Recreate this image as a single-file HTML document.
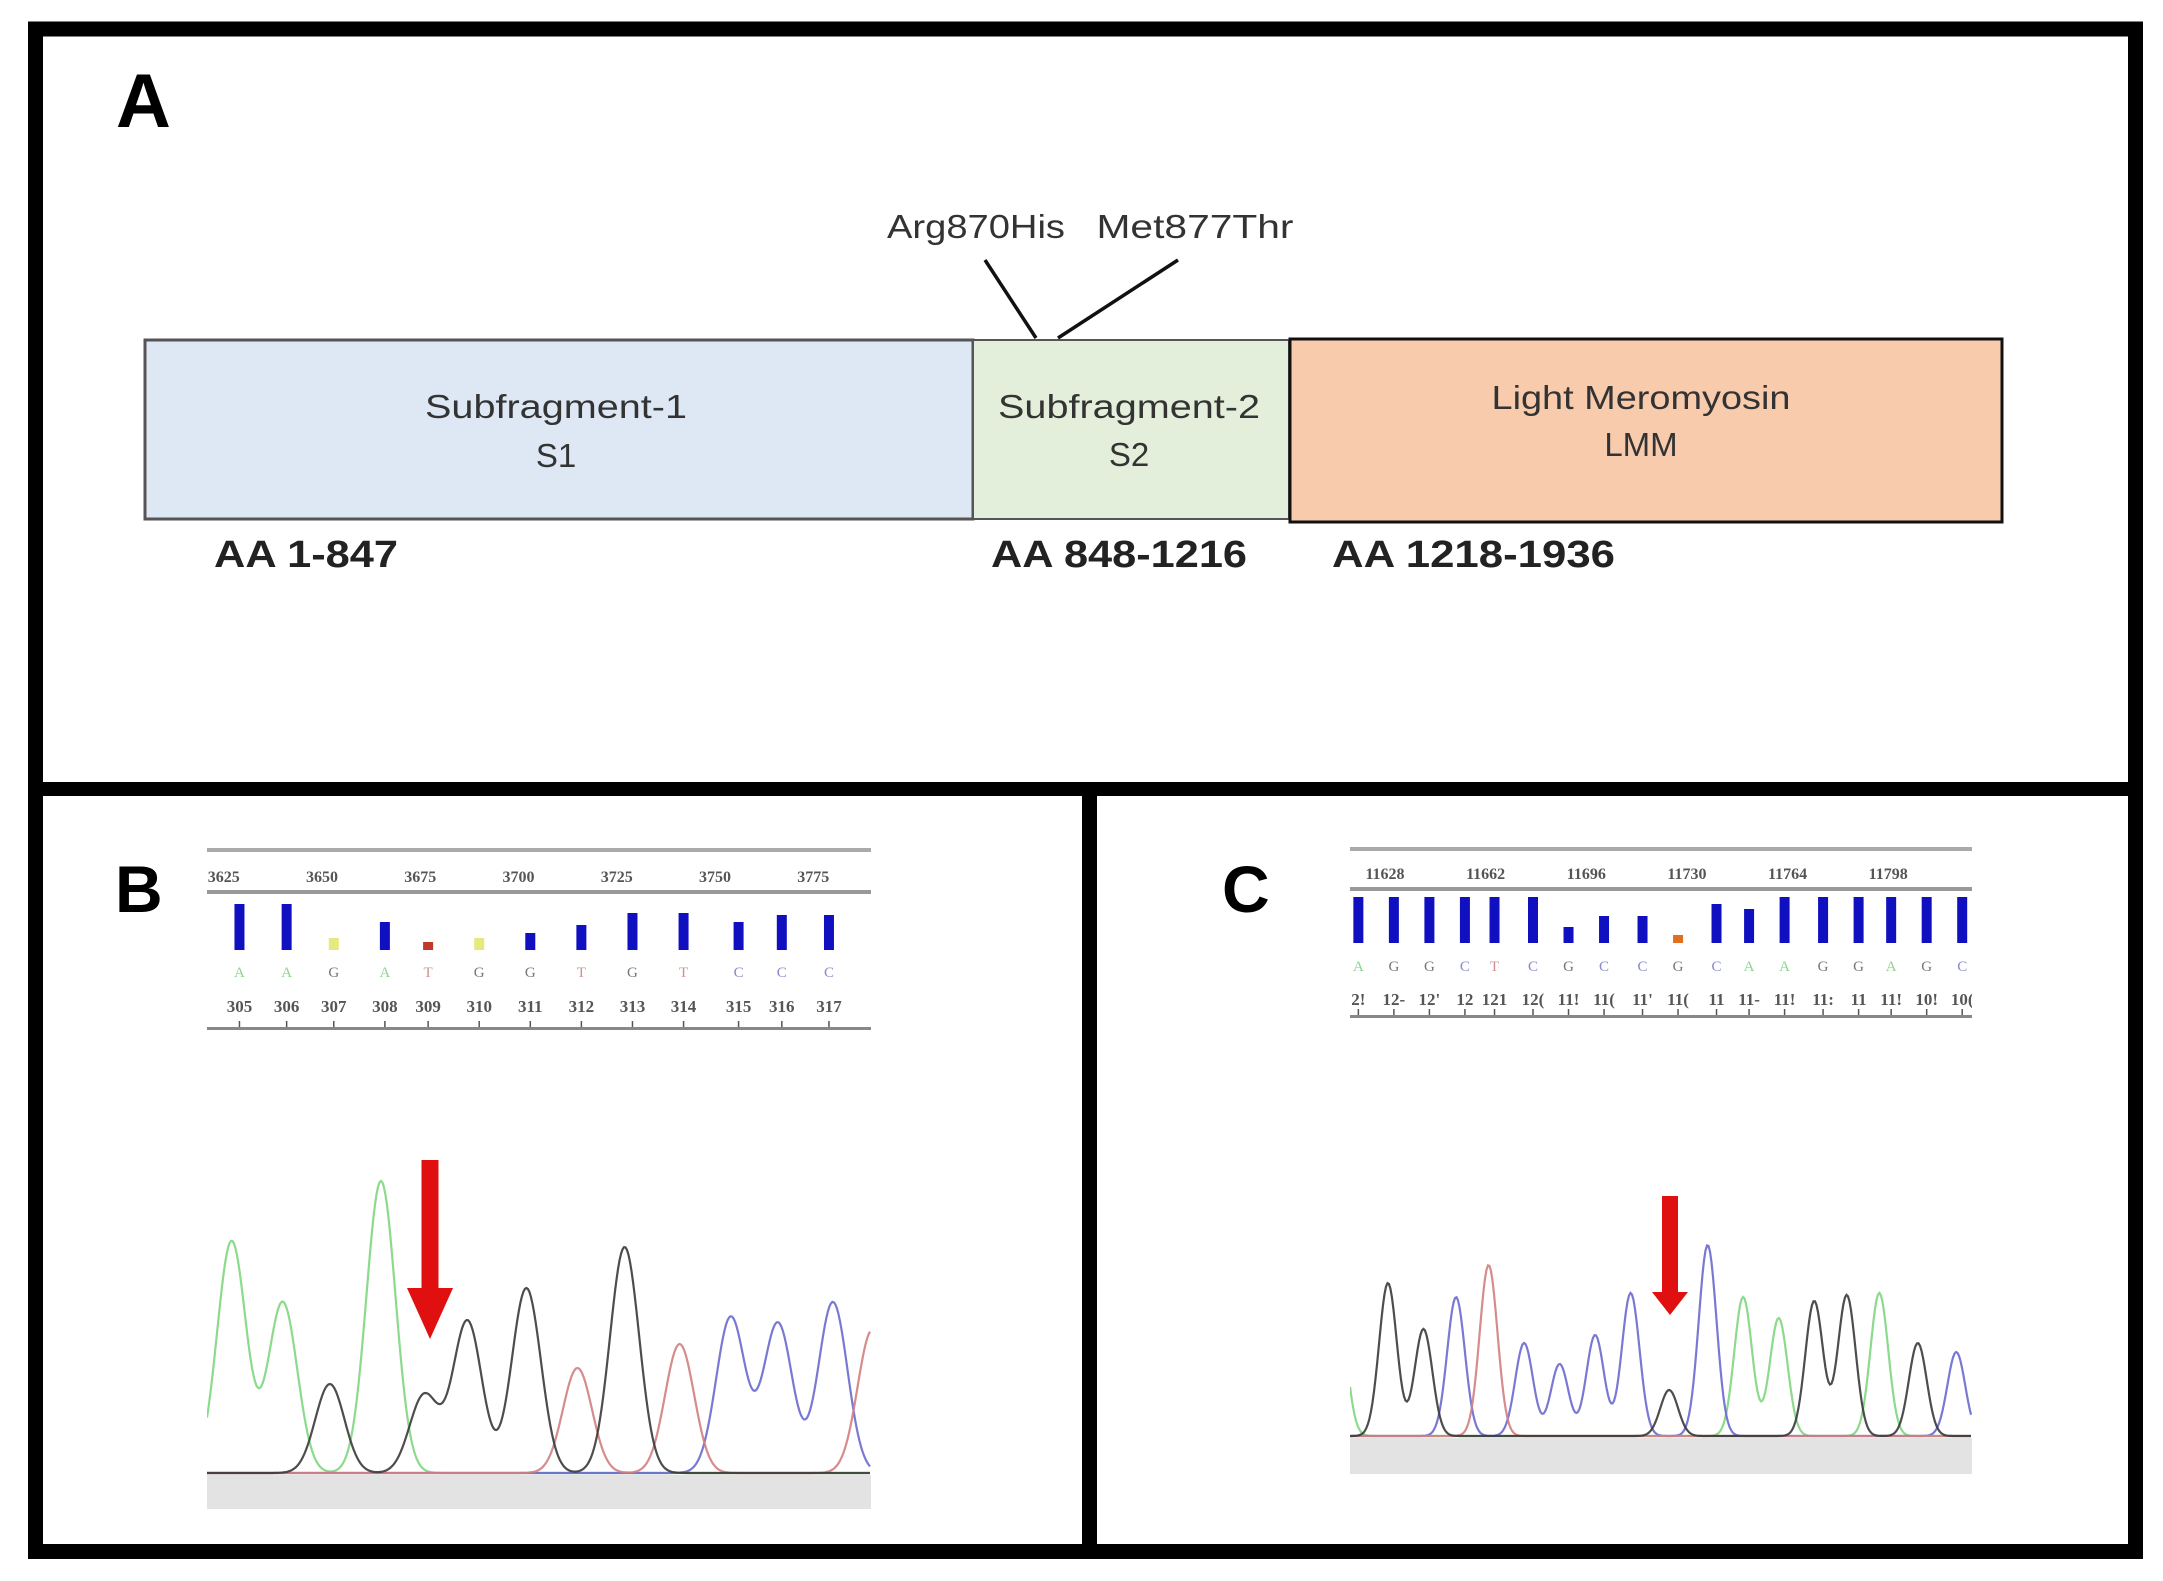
<!DOCTYPE html>
<html><head><meta charset="utf-8"><style>
html,body{margin:0;padding:0;background:#fff;}
svg{display:block;font-family:"Liberation Sans",sans-serif;}
</style></head><body>
<svg id="fig" width="2163" height="1581" viewBox="0 0 2163 1581" xmlns="http://www.w3.org/2000/svg">
<rect x="0" y="0" width="2163" height="1581" fill="#fff"/>
<rect x="35.5" y="29" width="2100" height="1522.5" fill="none" stroke="#000" stroke-width="15"/>
<rect x="28" y="782" width="2115" height="14" fill="#000"/>
<rect x="1082" y="782" width="15" height="770" fill="#000"/>

<g>
<text x="116" y="127" font-size="76" font-weight="bold">A</text>
<rect x="145" y="340" width="828" height="179" fill="#dee8f4" stroke="#555" stroke-width="3"/>
<rect x="973" y="340" width="316" height="179" fill="#e3efda" stroke="#555" stroke-width="2"/>
<rect x="1290" y="339" width="712" height="183" fill="#f8cbad" stroke="#111" stroke-width="3"/>
<g font-size="33" fill="#333" text-anchor="middle">
<text x="556" y="418" textLength="262" lengthAdjust="spacingAndGlyphs">Subfragment-1</text>
<text x="556" y="467">S1</text>
<text x="1129" y="418" textLength="262" lengthAdjust="spacingAndGlyphs">Subfragment-2</text>
<text x="1129" y="466">S2</text>
<text x="1641" y="409" textLength="299" lengthAdjust="spacingAndGlyphs">Light Meromyosin</text>
<text x="1641" y="456">LMM</text>
<text x="976" y="238" textLength="178" lengthAdjust="spacingAndGlyphs">Arg870His</text>
<text x="1195" y="238" textLength="197" lengthAdjust="spacingAndGlyphs">Met877Thr</text>
</g>
<line x1="985" y1="260" x2="1036" y2="338" stroke="#111" stroke-width="3.5"/>
<line x1="1178" y1="260" x2="1058" y2="338" stroke="#111" stroke-width="3.5"/>
<g font-size="38" font-weight="bold" fill="#222">
<text x="214" y="567" textLength="184" lengthAdjust="spacingAndGlyphs">AA 1-847</text>
<text x="991" y="567" textLength="256" lengthAdjust="spacingAndGlyphs">AA 848-1216</text>
<text x="1332" y="567" textLength="283" lengthAdjust="spacingAndGlyphs">AA 1218-1936</text>
</g>
</g>

<text x="115" y="912" font-size="66" font-weight="bold">B</text>
<text x="1222" y="912" font-size="66" font-weight="bold">C</text>
<g id="panelB"></g>
<g id="panelC"></g>
</svg>
<script>
// ---- Panel B data ----
const bScanTicks = [3625, 3650, 3675, 3700, 3725, 3750, 3775];
const bBases = ["A","A","G","A","T","G","G","T","G","T","C","C","C"];
const bBaseNums = ["305","306","307","308","309","310","311","312","313","314","315","316","317"];
const bBaseScans = [3629, 3641, 3653, 3666, 3677, 3690, 3703, 3716, 3729, 3742, 3756, 3767, 3779];
const bQuality = [46, 46, 12, 28, 8, 12, 17, 25, 37, 37, 28, 35, 35];
const bPeakScans = [3627, 3640, 3652, 3665, 3676, 3687, 3702, 3715, 3727, 3741, 3754, 3766, 3780, 3790];
const bPeakHeights = [232, 171, 89, 292, 78, 152, 185, 105, 226, 129, 156, 150, 171, 143];
const bPeakBases = ["A","A","G","A","G","G","G","T","G","T","C","C","C","T"];
// ---- Panel C data ----
const cScanTicks = [11628, 11662, 11696, 11730, 11764, 11798, 11832];
const cTickLabels = ["11628","11662","11696","11730","11764","11798","1"];
const cBases = ["A","G","G","C","T","C","G","C","C","G","C","A","A","G","G","A","G","C"];
const cBaseNums = ["2!","12-","12'","12","121","12(","11!","11(","11'","11(","11","11-","11!","11:","11","11!","10!","10("];
const cBaseScans = [11619, 11631, 11643, 11655, 11665, 11678, 11690, 11702, 11715, 11727, 11740, 11751, 11763, 11776, 11788, 11799, 11811, 11823];
const cQuality = [46, 46, 46, 46, 46, 46, 16, 27, 27, 8, 39, 34, 46, 46, 46, 46, 46, 46];
const cPeakScans = [11612, 11629, 11641, 11652, 11663, 11675, 11687, 11699, 11711, 11724, 11737, 11749, 11761, 11773, 11784, 11795, 11808, 11821];
const cPeakHeights = [130, 153, 107, 139, 171, 93, 72, 101, 143, 46, 191, 139, 118, 135, 141, 143, 93, 84];
const cPeakBases = ["A","G","G","C","T","C","C","C","C","G","C","A","A","G","G","A","G","C"];

const NS = "http://www.w3.org/2000/svg";
const traceColor = {A:"#7fd67f", G:"#3a3a3a", T:"#d08080", C:"#6a6acf"};
const letterColor = {A:"#8cd68c", G:"#777", T:"#d49090", C:"#8888cc"};
function mk(tag, attrs, parent){const e=document.createElementNS(NS,tag);for(const k in attrs)e.setAttribute(k,attrs[k]);parent.appendChild(e);return e;}

function drawPanel(g, cfg){
  const sx = s => cfg.x0 + (s - cfg.s0) * cfg.pxPerScan;
  const hy = h => cfg.baseY - h * cfg.yScale;
  const clipId = cfg.id + "clip";
  const defs = mk("defs", {}, g);
  const cp = mk("clipPath", {id: clipId}, defs);
  mk("rect", {x: cfg.left, y: cfg.top - 20, width: cfg.right - cfg.left, height: cfg.bandBottom - cfg.top + 20}, cp);
  const l1 = mk("rect", {x: cfg.left, y: cfg.top, width: cfg.right - cfg.left, height: 4, fill: "#aaa"}, g);
  
  
  const l2 = mk("rect", {x: cfg.left, y: cfg.rule2, width: cfg.right - cfg.left, height: 4, fill: "#999"}, g);
  
  
  const l3 = mk("rect", {x: cfg.left, y: cfg.rule3, width: cfg.right - cfg.left, height: 3, fill: "#888"}, g);
  
  
  const cg = mk("g", {"clip-path": "url(#" + clipId + ")"}, g);
  cfg.ticks.forEach((t, i) => {
    const tx = mk("text", {x: sx(t), y: cfg.tickY, "font-size": 16, "font-family": "Liberation Serif, serif", "font-weight": "bold", fill: "#555", "text-anchor": "middle"}, cg);
    tx.textContent = cfg.tickLabels ? cfg.tickLabels[i] : String(t);
    
    
  });
  cfg.bases.forEach((b, i) => {
    const x = sx(cfg.baseScans[i]);
    const q = cfg.quality[i];
    const low = q < 10;
    const col = low ? (b === "T" ? "#c0392b" : "#e07020") : (q < 14 ? "#e8e880" : "#1010c0");
    const bar = mk("rect", {x: x - 5, y: cfg.barBottom - q, width: 10, height: q, fill: col}, cg);
    
    
    const lt = mk("text", {x: x, y: cfg.letterY, "font-size": 15, "font-family": "Liberation Serif, serif", fill: letterColor[b], "text-anchor": "middle"}, cg);
    lt.textContent = b;
    
    
    const nt = mk("text", {x: x, y: cfg.numY, "font-size": 17, "font-family": "Liberation Serif, serif", "font-weight": "bold", fill: "#555", "text-anchor": "middle"}, cg);
    nt.textContent = cfg.baseNums[i];
    
    
    const tk = mk("line", {x1: x, y1: cfg.rule3 - 6, x2: x, y2: cfg.rule3, stroke: "#555", "stroke-width": 1.5}, cg);
    
    
  });
  const band = mk("rect", {x: cfg.left, y: cfg.baseY + 2, width: cfg.right - cfg.left, height: cfg.bandBottom - cfg.baseY - 2, fill: "#e3e3e3"}, g);
  
  
  ["A","C","T","G"].forEach(ch => {
    let d = "";
    for (let px = cfg.left; px <= cfg.right; px += 1.5) {
      const s = cfg.s0 + (px - cfg.x0) / cfg.pxPerScan;
      let h = 0;
      cfg.peakScans.forEach((ps, i) => {
        if (cfg.peakBases[i] !== ch) return;
        const z = (s - ps) / cfg.sigma;
        h += cfg.peakHeights[i] * Math.exp(-0.5 * z * z);
      });
      d += (d ? "L" : "M") + px.toFixed(1) + "," + hy(h).toFixed(1);
    }
    const p = mk("path", {d: d, fill: "none", stroke: traceColor[ch], "stroke-width": 2.2, "stroke-opacity": 0.9}, cg);
    
    
  });
  const a = cfg.arrow;
  const ar = mk("path", {d: `M${a.x - a.sw / 2},${a.top} L${a.x + a.sw / 2},${a.top} L${a.x + a.sw / 2},${a.headY} L${a.x + a.hw / 2},${a.headY} L${a.x},${a.tip} L${a.x - a.hw / 2},${a.headY} L${a.x - a.sw / 2},${a.headY} Z`, fill: "#e01010"}, g);
  
  
}

drawPanel(document.getElementById("panelB"), {
  id: "b", left: 207, right: 871, top: 848, rule2: 890, rule3: 1027, tickY: 882, barBottom: 950, letterY: 977, numY: 1012,
  x0: 322, s0: 3650, pxPerScan: 3.93, baseY: 1473, bandBottom: 1509, yScale: 1, sigma: 3.7,
  ticks: bScanTicks, bases: bBases, baseNums: bBaseNums, baseScans: bBaseScans, quality: bQuality,
  peakScans: bPeakScans, peakHeights: bPeakHeights, peakBases: bPeakBases,
  arrow: {x: 430, sw: 17, hw: 46, top: 1160, headY: 1288, tip: 1339}
});
drawPanel(document.getElementById("panelC"), {
  id: "c", left: 1350, right: 1972, top: 847, rule2: 887, rule3: 1015, tickY: 879, barBottom: 943, letterY: 971, numY: 1005,
  x0: 1385, s0: 11628, pxPerScan: 2.96, baseY: 1436, bandBottom: 1474, yScale: 1, sigma: 3.0,
  ticks: cScanTicks, tickLabels: cTickLabels, bases: cBases, baseNums: cBaseNums, baseScans: cBaseScans, quality: cQuality,
  peakScans: cPeakScans, peakHeights: cPeakHeights, peakBases: cPeakBases,
  arrow: {x: 1670, sw: 16, hw: 36, top: 1196, headY: 1292, tip: 1315}
});
</script>
</body></html>
